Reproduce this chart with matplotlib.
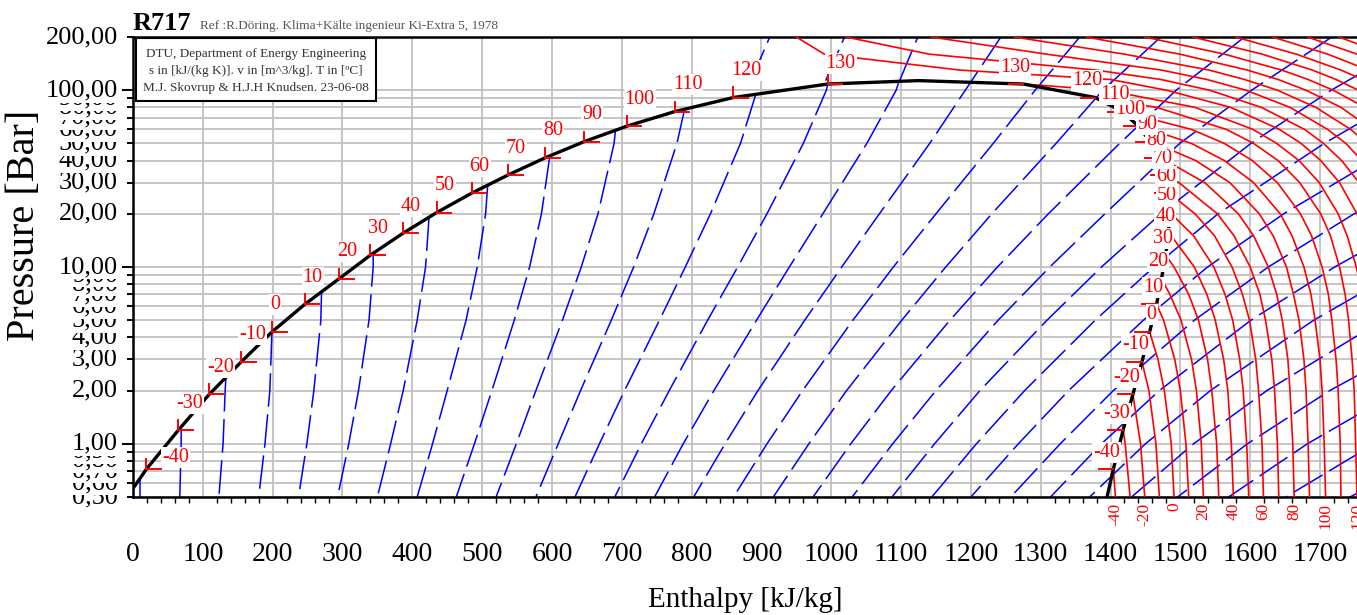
import matplotlib
matplotlib.use("Agg")
import matplotlib.pyplot as plt
from matplotlib.patches import Rectangle
from matplotlib.ticker import FixedLocator, NullFormatter

plt.rcParams['font.family'] = ['Liberation Serif', 'DejaVu Serif']

# saturation curve of R717 (liquid / vapour enthalpy in kJ/kg, pressure in bar)
sat_T = [-50, -40, -30, -20, -10, 0, 10, 20, 30, 40, 50, 60, 70, 80, 90, 100, 110, 120, 130, 132.25]
sat_p = [0.4085, 0.7171, 1.195, 1.901, 2.908, 4.294, 6.150, 8.575, 11.67, 15.55, 20.33, 26.15,
         33.12, 41.42, 51.17, 62.55, 75.73, 90.94, 108.4, 113.33]
sat_hf = [-24, 19, 65, 109, 155, 199, 246, 295, 340, 387, 435, 485, 537, 590, 646, 707, 776, 860, 995, 1125]
sat_hg = [1390, 1404, 1418, 1432, 1445, 1456, 1466, 1473, 1479, 1483, 1485, 1484, 1479, 1470, 1457,
          1440, 1417, 1378, 1275, 1125]
label_T = [-40, -30, -20, -10, 0, 10, 20, 30, 40, 50, 60, 70, 80, 90, 100, 110, 120, 130]

# isentropes (s in kJ/(kg K)): enthalpy at fixed pressures, start point on the liquid line
ise_p = [0.5, 1, 2, 5, 10, 20, 50, 100, 200]
ise_s = [0.25, 0.5, 0.75, 1.0, 1.25, 1.5, 1.75, 2.0, 2.25, 2.5, 2.75, 3.0, 3.25, 3.5, 3.75, 4.0,
         4.25, 4.5, 4.75, 5.0, 5.25, 5.5, 5.75, 6.0, 6.25, 6.5, 6.75, 7.0, 7.25, 7.5]
ise_start_h = [10, 69, 133, 199, 270, 344, 424, 508, 597, 691, 790, 892, 995, 1097] + [None] * 16
ise_start_p = [0.64, 1.25, 2.36, 4.29, 7.23, 11.99, 19.10, 29.03, 42.53, 59.39, 78.06, 94.79,
               108.4, 112.27] + [None] * 16
N = None
ise_h = [
    [10, N, N, N, N, N, N, N, N],
    [67, 69, N, N, N, N, N, N, N],
    [123, 129, 132, N, N, N, N, N, N],
    [180, 189, 196, N, N, N, N, N, N],
    [237, 249, 259, 269, N, N, N, N, N],
    [293, 309, 323, 338, 344, N, N, N, N],
    [350, 369, 387, 407, 419, N, N, N, N],
    [407, 429, 450, 477, 493, 505, N, N, N],
    [463, 489, 514, 546, 568, 585, N, N, N],
    [520, 549, 577, 615, 642, 666, 689, N, N],
    [577, 609, 641, 685, 717, 746, 779, N, N],
    [633, 668, 704, 754, 791, 827, 870, N, N],
    [690, 728, 768, 823, 866, 908, 960, 993, N],
    [747, 788, 832, 893, 940, 988, 1051, 1093, N],
    [803, 848, 895, 962, 1015, 1069, 1141, 1192, 1243],
    [860, 908, 959, 1031, 1089, 1150, 1232, 1292, 1356],
    [917, 968, 1022, 1101, 1164, 1230, 1322, 1389, 1472],
    [974, 1028, 1086, 1170, 1238, 1311, 1413, 1494, 1592],
    [1030, 1088, 1150, 1239, 1313, 1392, 1499, 1602, 1717],
    [1087, 1148, 1213, 1309, 1387, 1472, 1601, 1716, 1849],
    [1144, 1208, 1277, 1378, 1462, 1554, 1706, 1837, N],
    [1200, 1268, 1340, 1447, 1539, 1648, 1818, N, N],
    [1257, 1328, 1404, 1520, 1626, 1749, 1938, N, N],
    [1314, 1387, 1470, 1601, 1721, 1858, N, N, N],
    [1370, 1450, 1543, 1691, 1824, N, N, N, N],
    [1430, 1519, 1624, 1790, 1938, N, N, N, N],
    [1496, 1596, 1714, 1899, N, N, N, N, N],
    [1569, 1682, 1814, N, N, N, N, N, N],
    [1651, 1778, 1925, N, N, N, N, N, N],
    [1743, 1885, N, N, N, N, N, N, N],
]
# isentropes above the critical pressure on the liquid side
top_s = [3.0, 3.25, 3.5]
top_h_pc = [885, 992, 1098]
top_h_200 = [912, 1019, 1124]

# isotherms in the vapour and supercritical region (T in C)
iso_p = [0.5, 1, 2, 3, 5, 7, 10, 15, 20, 30, 40, 50, 60, 80, 100, 115, 130, 160, 200]
iso_T = [-40, -30, -20, -10, 0, 10, 20, 30, 40, 50, 60, 70, 80, 90, 100, 110, 120, 130,
         140, 150, 160, 170, 180, 190, 200, 210, 220, 230, 240, 250]
iso_h = [
    [1407] + [N] * 18,
    [1428, 1421] + [N] * 17,
    [1449, 1443] + [N] * 17,
    [1470, 1465, 1455] + [N] * 16,
    [1491, 1487, 1477, 1468] + [N] * 15,
    [1512, 1508, 1500, 1492, 1476] + [N] * 14,
    [1533, 1530, 1523, 1516, 1501, 1485] + [N] * 13,
    [1555, 1552, 1545, 1539, 1526, 1512, 1491] + [N] * 12,
    [1576, 1573, 1568, 1562, 1550, 1538, 1520, 1487] + [N] * 11,
    [1598, 1595, 1590, 1585, 1575, 1564, 1548, 1519, 1487] + [N] * 10,
    [1619, 1617, 1612, 1608, 1599, 1589, 1574, 1549, 1521] + [N] * 10,
    [1641, 1639, 1635, 1631, 1622, 1614, 1600, 1577, 1553, 1498] + [N] * 9,
    [1663, 1661, 1657, 1654, 1646, 1638, 1626, 1605, 1583, 1535, 1479] + [N] * 8,
    [1685, 1683, 1680, 1677, 1670, 1662, 1652, 1633, 1613, 1571, 1522, 1465] + [N] * 7,
    [1708, 1706, 1703, 1700, 1693, 1687, 1677, 1660, 1643, 1605, 1563, 1516, 1457] + [N] * 6,
    [1730, 1729, 1726, 1723, 1717, 1712, 1703, 1688, 1672, 1639, 1603, 1563, 1516] + [N] * 6,
    [1753, 1751, 1749, 1746, 1741, 1736, 1728, 1715, 1701, 1671, 1640, 1605, 1566, 1466] + [N] * 5,
    [1775, 1774, 1772, 1769, 1765, 1760, 1752, 1739, 1726, 1699, 1670, 1638, 1604, 1521, 1394] + [N] * 4,
    [1798, 1797, 1795, 1793, 1788, 1784, 1777, 1765, 1753, 1728, 1701, 1673, 1642, 1572, 1480, 1400, 1184, 990, 950],
    [1822, 1821, 1818, 1816, 1812, 1808, 1801, 1790, 1779, 1756, 1731, 1705, 1678, 1616, 1542, 1472, 1379, 1140, 1021],
    [1845, 1844, 1842, 1840, 1836, 1832, 1826, 1815, 1805, 1783, 1760, 1737, 1711, 1657, 1594, 1538, 1473, 1308, 1143],
    [1868, 1868, 1866, 1864, 1860, 1856, 1850, 1841, 1831, 1810, 1789, 1767, 1744, 1694, 1639, 1592, 1541, 1420, 1262],
    [1892, 1891, 1890, 1888, 1884, 1880, 1875, 1866, 1856, 1837, 1817, 1796, 1775, 1730, 1680, 1640, 1596, 1499, 1365],
    [N] * 6 + [1900, 1891, 1882, 1864, 1845, 1826, 1806, 1764, 1719, 1683, 1645, 1563, 1449],
    [N] * 9 + [1890, 1872, 1854, 1836, 1797, 1755, 1723, 1689, 1617, 1518],
    [N] * 10 + [1900, 1883, 1865, 1829, 1790, 1761, 1730, 1666, 1579],
    [N] * 12 + [1894, 1860, 1824, 1797, 1769, 1711, 1632],
    [N] * 13 + [1891, 1858, 1832, 1806, 1753, 1682],
    [N] * 14 + [1890, 1866, 1842, 1793, 1727],
    [N] * 15 + [1900, 1877, 1831, 1771],
]
bottom_T = [-40, -20, 0, 20, 40, 60, 80, 100, 120]

y_ticks = [0.5, 0.6, 0.7, 0.8, 0.9, 1, 2, 3, 4, 5, 6, 7, 8, 9, 10, 20, 30, 40, 50, 60, 70, 80, 90, 100, 200]
x_ticks = list(range(0, 1701, 100))

W, H = 1357, 615
fig = plt.figure(figsize=(W / 100, H / 100), dpi=100)
ax = fig.add_axes([133 / W, 118 / H, 1224 / W, 460 / H])
ax.set_yscale('log')
ax.set_xlim(0, 1753)
ax.set_ylim(0.5, 200)

# grid and ticks
ax.xaxis.set_major_locator(FixedLocator(x_ticks))
ax.xaxis.set_minor_locator(FixedLocator([h for h in range(20, 1753, 20) if h % 100]))
ax.yaxis.set_major_locator(FixedLocator([1, 10, 100]))
ax.yaxis.set_minor_locator(FixedLocator([p for p in y_ticks if p not in (1, 10, 100)]))
for axis in (ax.xaxis, ax.yaxis):
    axis.set_major_formatter(NullFormatter())
    axis.set_minor_formatter(NullFormatter())
ax.tick_params(axis='x', which='major', length=0)
ax.tick_params(axis='x', which='minor', length=4.5, width=1.0, direction='out')
ax.tick_params(axis='y', which='major', length=8, width=1.4, direction='out')
ax.tick_params(axis='y', which='minor', length=4, width=1.4, direction='out')
ax.grid(True, axis='x', which='major', color='#c0c0c0', lw=1.3, zorder=0)
ax.grid(True, axis='y', which='both', color='#c0c0c0', lw=1.3, zorder=0)
ax.set_axisbelow(True)
for side in ('left', 'bottom', 'top'):
    ax.spines[side].set_linewidth(1.8)
ax.spines['right'].set_visible(False)

white = dict(boxstyle='square,pad=0.05', fc='white', ec='none')

# isentropes
for s, h0, p0, row in zip(ise_s, ise_start_h, ise_start_p, ise_h):
    hs, ps = ([h0], [p0]) if h0 is not None else ([], [])
    for p, h in sorted(zip(ise_p, row), key=lambda q: -q[0]):
        if h is not None:
            hs.append(h)
            ps.append(p)
    ax.plot(hs, ps, color='#0000ff', lw=1.1, dashes=(22, 5), zorder=2)
for s, h1, h2 in zip(top_s, top_h_pc, top_h_200):
    ax.plot([h1, h2], [sat_p[-1], 200], color='#0000ff', lw=1.1, dashes=(22, 5), zorder=2)

# isotherms
for T, row in zip(iso_T, iso_h):
    hs, ps = [], []
    if T in sat_T:
        k = sat_T.index(T)
        hs.append(sat_hg[k])
        ps.append(sat_p[k])
    for p, h in sorted(zip(iso_p, row), key=lambda q: -q[0]):
        if h is not None:
            hs.append(h)
            ps.append(p)
    ax.plot(hs, ps, color='#ff0000', lw=1.2, zorder=3)

# saturation curve
ax.plot(sat_hf + sat_hg[-2::-1], sat_p + sat_p[-2::-1], color='black', lw=2.4, zorder=4)

# temperature marks and labels on both sides of the dome
for T in label_T:
    k = sat_T.index(T)
    hf, hg, p = sat_hf[k], sat_hg[k], sat_p[k]
    ax.plot([hf, hf], [p, p * 1.14], color='red', lw=1.4, zorder=5)
    ax.plot([hf, hf + 21], [p, p], color='red', lw=1.4, zorder=5)
    ax.plot([hg - 21, hg], [p, p], color='red', lw=1.4, zorder=5)
    if T == -40:
        xy = (hf + 23, p * 1.17)
    elif T == 130:
        xy = (hf - 3, p * 1.30)
    else:
        xy = (hf - 3, p * 1.42)
    ax.text(*xy, str(T), color='red', fontsize=14.5, ha='left', va='center', bbox=white, zorder=6)
    ax.text(hg + 10, p * 1.247, str(T), color='red', fontsize=14.5, ha='right', va='center',
            bbox=white, zorder=6)

# isotherm labels below the axis
for T in bottom_T:
    h = iso_h[iso_T.index(T)][0]
    ax.text(h, -0.012, str(T), transform=ax.get_xaxis_transform(), color='red', fontsize=12.5,
            rotation=90, ha='center', va='top', clip_on=False)

# axis numbers
for h in x_ticks:
    ax.text(h, -0.126, str(h), transform=ax.get_xaxis_transform(), fontsize=20,
            ha='center', va='center', clip_on=False)
for p in y_ticks:
    ax.text(-0.0125, p, ('%.2f' % p).replace('.', ','), transform=ax.get_yaxis_transform(),
            fontsize=19, ha='right', va='center', bbox=white, clip_on=False)

fig.text(745 / W, 1 - 600 / H, 'Enthalpy [kJ/kg]', fontsize=21, ha='center', va='center')
fig.text(25 / W, 1 - 225 / H, 'Pressure [Bar]', fontsize=29, rotation=90, ha='center', va='center')

# heading and info box
fig.text(133 / W, 1 - 30 / H, 'R717', fontsize=19, fontweight='bold', va='baseline')
fig.text(200 / W, 1 - 29 / H, 'Ref :R.Döring. Klima+Kälte ingenieur Ki-Extra 5, 1978',
         fontsize=9.5, color='#555555', va='baseline')
fig.add_artist(Rectangle((136 / W, 1 - 101 / H), 240 / W, 63 / H, transform=fig.transFigure,
                         fc='white', ec='black', lw=1.5, zorder=20))
info = ['DTU, Department of Energy Engineering',
        's in [kJ/(kg K)]. v in [m^3/kg]. T in [ºC]',
        'M.J. Skovrup & H.J.H Knudsen. 23-06-08']
for i, line in enumerate(info):
    fig.text(256 / W, 1 - (54 + 17 * i) / H, line, fontsize=9.5, color='#333333',
             ha='center', va='center', zorder=21)

fig.savefig('out.png', dpi=100)
